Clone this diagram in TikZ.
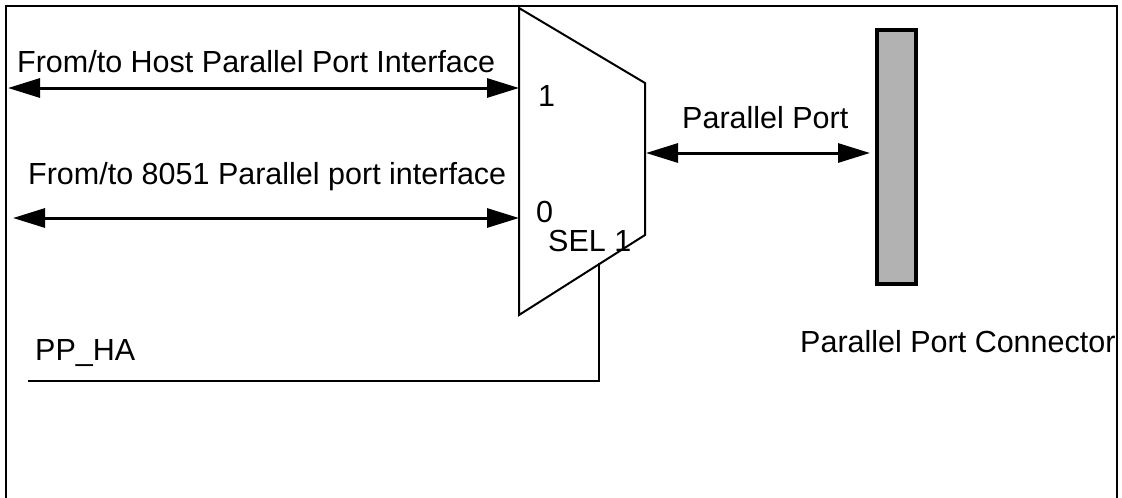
\documentclass[tikz,border=0pt]{standalone}
\usepackage{fontspec}
\setmainfont{Liberation Sans}
\usetikzlibrary{arrows.meta}
\tikzset{
lbl/.style={inner sep=0pt,anchor=base west,font=\fontsize{30.5}{36}\selectfont},
bus/.style={line width=3pt,{Triangle[length=32pt,width=19pt]}-{Triangle[length=32pt,width=19pt]}},
thin line/.style={line width=2pt}
}
\begin{document}
\begin{tikzpicture}[x=1pt,y=-1pt]
\useasboundingbox (0,0) rectangle (1122,498);
\draw[line width=2.6pt]
(6,498) -- (6,6) -- (1117,6) -- (1117,498);

% mux corners
\coordinate (muxA) at (519,8);
\coordinate (muxB) at (645,83);
\coordinate (muxC) at (645,235);
\coordinate (muxD) at (519,315);
\draw[thin line] (muxA) -- (muxB) -- (muxC) -- (muxD) -- cycle;

% connector bar
\node[draw,line width=4pt,fill=black!30,minimum width=39pt,minimum height=254pt,inner sep=0pt] (conn) at (896.5,156.5) {};

\coordinate (hostEnd) at (8,88);
\coordinate (hostIn) at (519,88);
\coordinate (mcuEnd) at (13,218);
\coordinate (mcuIn) at (519,218);
\coordinate (portOut) at (646,153);
\coordinate (portIn) at (870,153);
\draw[bus] (hostEnd) -- (hostIn);
\draw[bus] (mcuEnd) -- (mcuIn);
\draw[bus] (portOut) -- (portIn);

\coordinate (selTop) at (599,263);
\coordinate (selEnd) at (28,381);
\draw[thin line] (selTop) |- (selEnd);

\node[lbl] (hostLbl) at (17,72) {From/to Host Parallel Port Interface};
\node[lbl] (mcuLbl) at (28,184) {From/to 8051 Parallel port interface};
\node[lbl] (one) at (538,106.5) {1};
\node[lbl] (zero) at (536,222) {0};
\node[lbl] (sel) at (548,251.5) {SEL 1};
\node[lbl] (portLbl) at (682,128) {Parallel Port};
\node[lbl] (connLbl) at (800,352) {Parallel Port Connector};
\node[lbl] (ppha) at (35,360) {PP\_HA};
\end{tikzpicture}
\end{document}
